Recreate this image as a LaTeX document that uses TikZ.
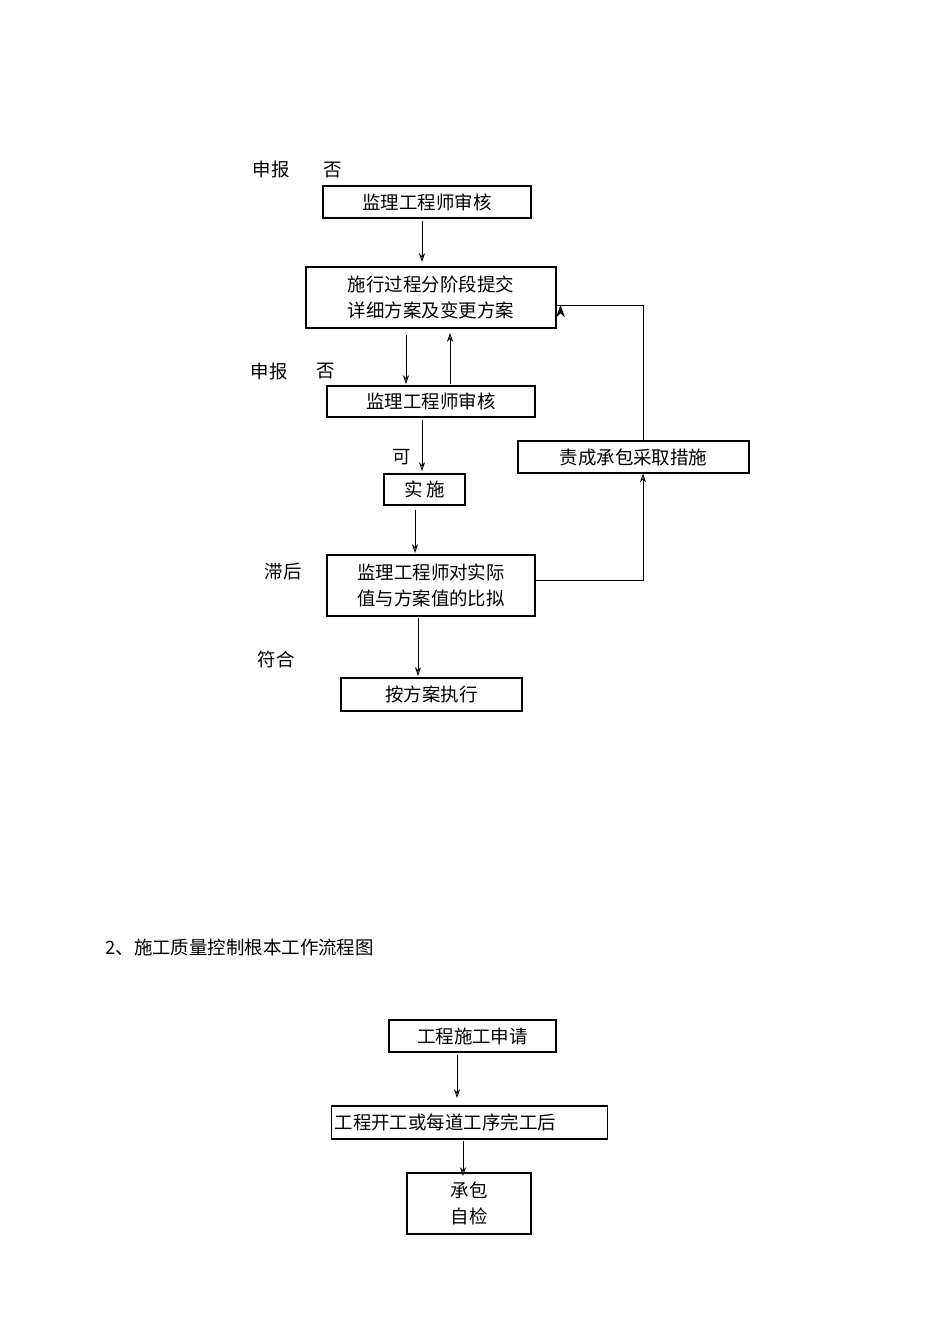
\documentclass[tikz,border=0pt]{standalone}
\usepackage{fontspec}
\newfontfamily\cjk{Noto Sans CJK SC}
\usetikzlibrary{arrows.meta}
\begin{document}
\begin{tikzpicture}[x=0.02cm,y=-0.02cm,
 box/.style={draw,line width=0.6pt,inner sep=0pt,align=center,font=\cjk\fontsize{10.5pt}{15pt}\selectfont},
 lab/.style={font=\cjk\fontsize{10.5pt}{13pt}\selectfont,inner sep=0pt},
 arr/.style={-{Stealth[length=5pt,width=3.5pt,open]},line width=0.5pt},
 arrf/.style={-{Stealth[length=7pt,width=5pt]},line width=0.5pt}]
\useasboundingbox (0,0) rectangle (950,1326);
\node[box,minimum width=208*0.02cm,minimum height=32*0.02cm] (b1) at (427,202) {监理工程师审核};
\node[box,minimum width=250*0.02cm,minimum height=61*0.02cm] (b2) at (431,297.5) {施行过程分阶段提交\\详细方案及变更方案};
\node[box,minimum width=208*0.02cm,minimum height=31*0.02cm] (b3) at (431,401.5) {监理工程师审核};
\node[box,minimum width=231*0.02cm,minimum height=32*0.02cm] (b4) at (633.5,457) {责成承包采取措施};
\node[box,minimum width=81*0.02cm,minimum height=31*0.02cm] (b5) at (424.5,489.5) {实\,施};
\node[box,minimum width=208*0.02cm,minimum height=61*0.02cm] (b6) at (431,585.5) {监理工程师对实际\\值与方案值的比拟};
\node[box,minimum width=181*0.02cm,minimum height=33*0.02cm] (b7) at (431.5,694.5) {按方案执行};
\node[lab] (l1) at (271,170) {申报};
\node[lab] (l2) at (333,170) {否};
\node[lab] (l3) at (269,371) {申报};
\node[lab] (l4) at (326,371) {否};
\node[lab] (l5) at (402,457) {可};
\node[lab] (l6) at (283,572) {滞后};
\node[lab] (l7) at (276,659) {符合};
\draw[arr] (b1.south -| 422,0) ++(0,2) -- (422,262);
\draw[arr] (406,335) -- (406,384);
\draw[arr] (450,384) -- (450,333);
\draw[arr] (422,420) -- (422,471);
\draw[arr] (415,510) -- (415,553);
\draw[arr] (418,618) -- (418,676);
\coordinate (c1) at (643,580);
\coordinate (c2) at (643,305);
\draw[arr] (b6.east |- c1) -- (c1) -- (b4.south -| c1);
\draw[arrf] (b4.north -| c2) -- (c2) -- (b2.east |- c2) ++(4,0);
\node[lab,anchor=west] (h) at (105,947) {2、施工质量控制根本工作流程图};
\node[box,minimum width=167*0.02cm,minimum height=32*0.02cm] (b8) at (472.5,1036) {工程施工申请};
\node[box,minimum width=276*0.02cm,minimum height=33*0.02cm,anchor=west,text width=276*0.02cm,align=left] (b9) at (331,1122.5) {\,工程开工或每道工序完工后};
\node[box,minimum width=124*0.02cm,minimum height=61*0.02cm] (b10) at (469,1203.5) {承包\\自检};
\draw[arr] (457,1055) -- (457,1098);
\draw[arr] (463,1141) -- (463,1176);
\end{tikzpicture}
\end{document}
